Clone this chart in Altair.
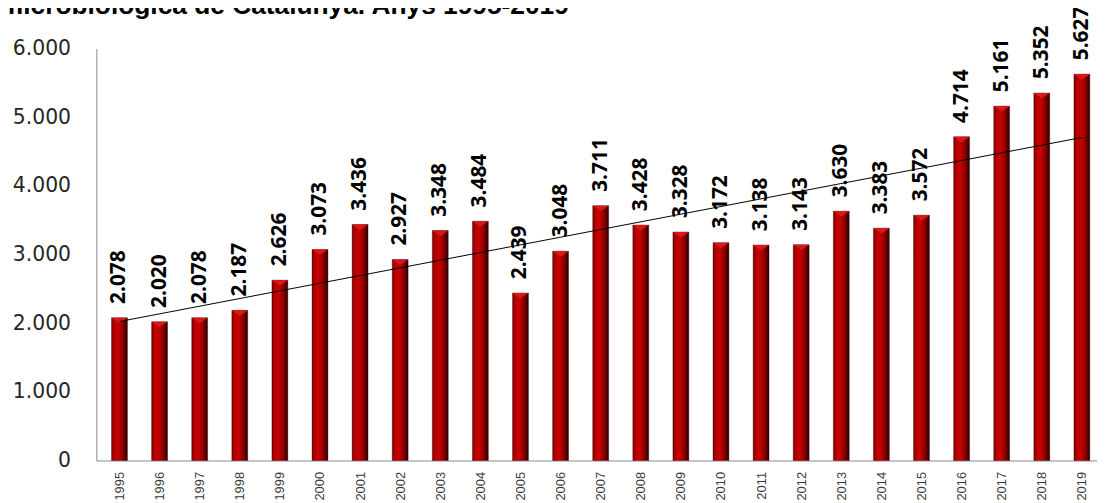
import altair as alt
import pandas as pd

years = list(range(1995, 2020))
values = [2078, 2020, 2078, 2187, 2626, 3073, 3436, 2927, 3348, 3484, 2439, 3048,
          3711, 3428, 3328, 3172, 3138, 3143, 3630, 3383, 3572, 4714, 5161, 5352, 5627]
labels = [f"{v:,}".replace(",", ".") for v in values]
y_ticks = [0, 1000, 2000, 3000, 4000, 5000, 6000]
title_text = "microbiològica de Catalunya. Anys 1995-2019"

df = pd.DataFrame({"year": years, "value": values, "label": labels})

xscale = alt.Scale(domain=[1994.547, 2019.253], nice=False, zero=False)
yscale = alt.Scale(domain=[0, 6000], nice=False, zero=True)

x_enc = alt.X(
    "year:Q", scale=xscale,
    axis=alt.Axis(values=years, format="d", labelAngle=270, labelAlign="right",
                  labelBaseline="middle", labelFont="Liberation Sans", labelFontSize=13,
                  labelColor="#3a3a3a", labelPadding=11, ticks=False, grid=False,
                  domainColor="#8c8c8c", domainWidth=1, title=None, labelOverlap=False,
                  labelFlush=False),
)
y_enc = alt.Y(
    "value:Q", scale=yscale,
    axis=alt.Axis(values=y_ticks,
                  labelExpr="replace(format(datum.value, ',d'), ',', '.')",
                  labelFont="DejaVu Sans", labelFontSize=20.5, labelColor="#262626",
                  labelPadding=26, ticks=False, grid=False, domainColor="#8c8c8c",
                  domainWidth=1, title=None),
)

base = alt.Chart(df)

grad = alt.LinearGradient(
    gradient="linear", x1=0, x2=1, y1=0, y2=0,
    stops=[
        alt.GradientStop(offset=0, color="#7a0000"),
        alt.GradientStop(offset=0.18, color="#b80000"),
        alt.GradientStop(offset=0.42, color="#c80000"),
        alt.GradientStop(offset=0.72, color="#8a0000"),
        alt.GradientStop(offset=1, color="#2a0000"),
    ],
)

bars = base.mark_bar(size=16, color=grad, stroke="#3a0000", strokeWidth=0.4).encode(x=x_enc, y=y_enc)

tops = base.mark_point(shape="M -1 0 L 1 0 L 0 0.7 Z", size=256, filled=True,
                       color="#d81818", opacity=1).encode(x=x_enc, y=y_enc)

text = base.mark_text(angle=270, align="left", baseline="middle", dx=14,
                      font="Open Sans", fontSize=21, fontWeight="bold",
                      color="#000000").encode(x=x_enc, y=y_enc, text="label:N")

trend = base.transform_regression("year", "value").mark_line(
    color="#000000", strokeWidth=1).encode(x=x_enc, y=y_enc)

title = alt.Chart(pd.DataFrame({"t": [title_text]})).mark_text(
    align="right", baseline="alphabetic", font="Liberation Sans", fontSize=26.5,
    fontWeight="bold", color="#000000").encode(
    x=alt.value(476), y=alt.value(-35), text="t:N")

chart = alt.layer(bars, tops, trend, text, title).properties(
    width=1008, height=415,
    autosize=alt.AutoSizeParams(type="none"),
    padding={"left": 89, "top": 39, "right": 0, "bottom": 41},
    background="white",
).configure_view(stroke=None)

chart.save("out.html", embed_options={"renderer": "svg", "actions": False})
